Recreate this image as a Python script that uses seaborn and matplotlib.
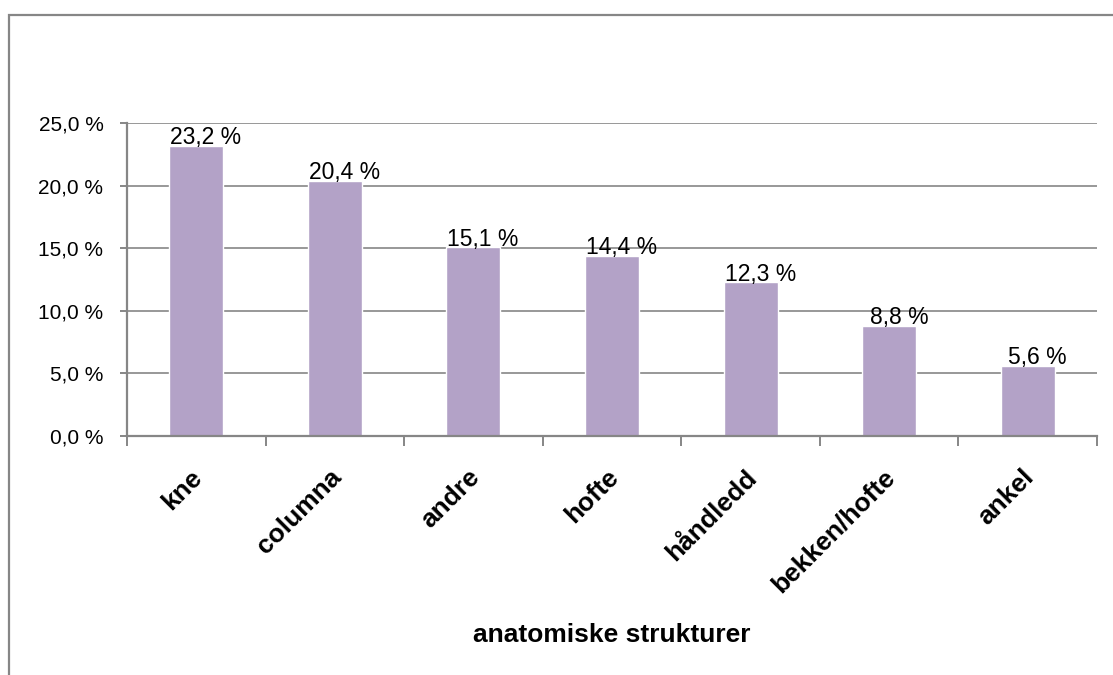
import matplotlib
matplotlib.use("Agg")
import matplotlib.pyplot as plt
from matplotlib.patches import Rectangle
from matplotlib.ticker import FixedLocator, FuncFormatter
from matplotlib.transforms import ScaledTranslation
import seaborn as sns
import pandas as pd

categories = ["kne", "columna", "andre", "hofte", "håndledd", "bekken/hofte", "ankel"]
shares = [23.2, 20.4, 15.1, 14.4, 12.3, 8.8, 5.6]
y_ticks = [0, 5, 10, 15, 20, 25]
x_title = "anatomiske strukturer"

BAR = "#B3A2C7"
LINE = "#868686"

sns.set_theme(style="white")
plt.rcParams["font.family"] = ["Liberation Sans", "DejaVu Sans"]

fig = plt.figure(figsize=(11.13, 6.75), dpi=100)
W, H = 1113, 675

# chart-area frame
fig.patches.append(Rectangle((9 / W, -0.1), 1.2, (1 - 15 / H) + 0.1,
                             transform=fig.transFigure, fill=False,
                             edgecolor=LINE, linewidth=1.6, zorder=0))

ax = fig.add_axes([127 / W, 1 - 436 / H, (1097 - 127) / W, (436 - 123) / H])

df = pd.DataFrame({"struktur": categories, "andel": shares})
sns.barplot(data=df, x="struktur", y="andel", color=BAR, saturation=1,
            width=0.39, ax=ax, zorder=3)

ax.set_ylim(0, 25)
ax.set_xlim(-0.5, len(categories) - 0.5)
ax.yaxis.set_major_locator(FixedLocator(y_ticks))
ax.yaxis.set_major_formatter(FuncFormatter(lambda v, p: f"{v:.1f} %".replace(".", ",")))
ax.grid(axis="y", color=LINE, linewidth=1.2, zorder=0)
ax.set_axisbelow(True)

for s in ["top", "right"]:
    ax.spines[s].set_visible(False)
for s in ["left", "bottom"]:
    ax.spines[s].set_color(LINE)
    ax.spines[s].set_linewidth(1.6)
    ax.spines[s].set_zorder(4)

ax.tick_params(axis="y", which="major", direction="out", length=5, width=1.4,
               color=LINE, labelsize=15, pad=12, left=True, labelcolor="black")
ax.tick_params(axis="x", which="major", length=0, pad=21, labelcolor="black")
ax.xaxis.set_minor_locator(FixedLocator([i - 0.5 for i in range(len(categories) + 1)]))
ax.tick_params(axis="x", which="minor", direction="out", length=7, width=1.4,
               color=LINE, bottom=True)

ax.set_xticks(range(len(categories)))
ax.set_xticklabels(categories, rotation=45, ha="right", rotation_mode="anchor",
                   fontsize=19, fontweight="bold")
shift = ScaledTranslation(-6 / 100, 0, fig.dpi_scale_trans)
for lbl in ax.get_xticklabels():
    lbl.set_transform(lbl.get_transform() + shift)

ax.set_xlabel(x_title, fontsize=19, fontweight="bold", color="black", va="baseline")
ax.xaxis.set_label_coords(0.5, -(642 - 436) / 313)
ax.set_ylabel("")

for i, v in enumerate(shares):
    ax.annotate(f"{v:.1f} %".replace(".", ","), (i, v), xytext=(7, 1),
                textcoords="offset points", ha="center", va="baseline",
                fontsize=16.5, color="black", zorder=5)

fig.savefig("out.png", dpi=100)
